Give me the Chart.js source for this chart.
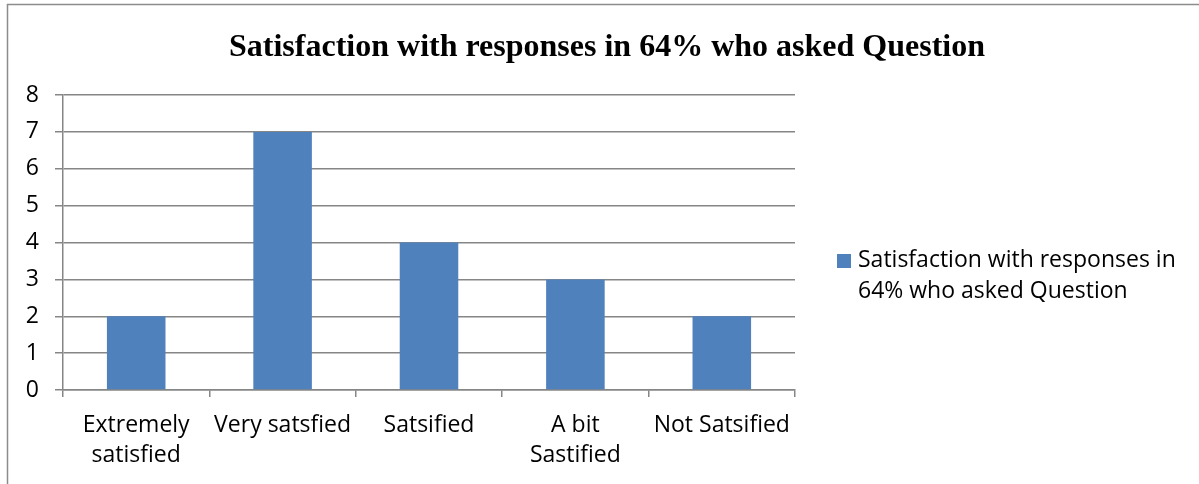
<!DOCTYPE html>
<html>
<head>
<meta charset="utf-8">
<title>Satisfaction chart</title>
<script src="https://cdn.jsdelivr.net/npm/chart.js@4/dist/chart.umd.min.js"></script>
<style>
    body { margin: 0; background: #fff; }
    #wrap { position: relative; width: 1199px; height: 484px; }
</style>
</head>
<body>
<div id="wrap"><canvas id="satisfactionChart" width="1199" height="484"></canvas></div>
<script>
"use strict";

var chartTitle = "Satisfaction with responses in 64% who asked Question";
var seriesName = ["Satisfaction with responses in", "64% who asked Question"];
var categories = [
    ["Extremely", "satisfied"],
    "Very satsfied",
    "Satsified",
    ["A bit", "Sastified"],
    "Not Satsified"
];
var responses = [2, 7, 4, 3, 2];
var yTicks = [0, 1, 2, 3, 4, 5, 6, 7, 8];

var barColor = "#4F81BD";
var lineColor = "#868686";
var labelFont = "'Open Sans', 'Noto Sans', sans-serif";
var labelSize = 23;

// outer frame + title + legend box drawn by hand
var decorations = {
    id: "decorations",
    beforeDraw: function(chart) {
        var ctx = chart.ctx;
        ctx.save();
        ctx.fillStyle = "#fff";
        ctx.fillRect(0, 0, chart.width, chart.height);
        ctx.strokeStyle = "#8c8c8c";
        ctx.lineWidth = 1.5;
        ctx.beginPath();
        ctx.moveTo(7.5, chart.height);
        ctx.lineTo(7.5, 4.5);
        ctx.lineTo(chart.width, 4.5);
        ctx.stroke();
        ctx.restore();
    },
    afterDraw: function(chart) {
        var ctx = chart.ctx;
        ctx.save();
        // title
        ctx.fillStyle = "#000";
        ctx.font = "bold 32px 'Liberation Serif', 'Times New Roman', serif";
        ctx.textAlign = "center";
        ctx.textBaseline = "alphabetic";
        ctx.fillText(chartTitle, 607, 56);

        // legend
        ctx.fillStyle = barColor;
        ctx.fillRect(837, 254, 14, 14);
        ctx.fillStyle = "#000";
        ctx.font = labelSize + "px " + labelFont;
        ctx.textAlign = "left";
        ctx.fillText(seriesName[0], 858, 267);
        ctx.fillText(seriesName[1], 858, 298);
        ctx.restore();
    }
};

var ctx = document.getElementById("satisfactionChart");

new Chart(ctx, {
    type: "bar",
    data: {
        labels: categories,
        datasets: [{
            label: seriesName.join(" "),
            data: responses,
            backgroundColor: barColor,
            borderWidth: 0,
            categoryPercentage: 1,
            barPercentage: 0.4
        }]
    },
    options: {
        responsive: false,
        animation: false,
        devicePixelRatio: 1,
        layout: {
            padding: { left: 0, top: 95, right: 404, bottom: 0 }
        },
        plugins: {
            legend: { display: false },
            title: { display: false },
            tooltip: { enabled: false }
        },
        scales: {
            x: {
                offset: true,
                grid: {
                    offset: true,
                    drawOnChartArea: false,
                    drawTicks: true,
                    tickLength: 7,
                    color: lineColor,
                    lineWidth: 1.5
                },
                border: { color: lineColor, width: 1.5 },
                ticks: {
                    color: "#000",
                    maxRotation: 0,
                    autoSkip: false,
                    padding: 14,
                    font: { family: labelFont, size: labelSize, lineHeight: 1.3 }
                },
                afterFit: function(scale) {
                    scale.height = 94;
                }
            },
            y: {
                min: 0,
                max: 8,
                afterBuildTicks: function(scale) {
                    scale.ticks = yTicks.map(function(v) { return { value: v }; });
                },
                grid: {
                    color: lineColor,
                    lineWidth: 1.5,
                    drawTicks: true,
                    tickLength: 8
                },
                border: { color: lineColor, width: 1.5 },
                ticks: {
                    color: "#000",
                    padding: 16,
                    font: { family: labelFont, size: labelSize }
                },
                afterFit: function(scale) {
                    scale.width = 63;
                }
            }
        }
    },
    plugins: [decorations]
});
</script>
</body>
</html>
